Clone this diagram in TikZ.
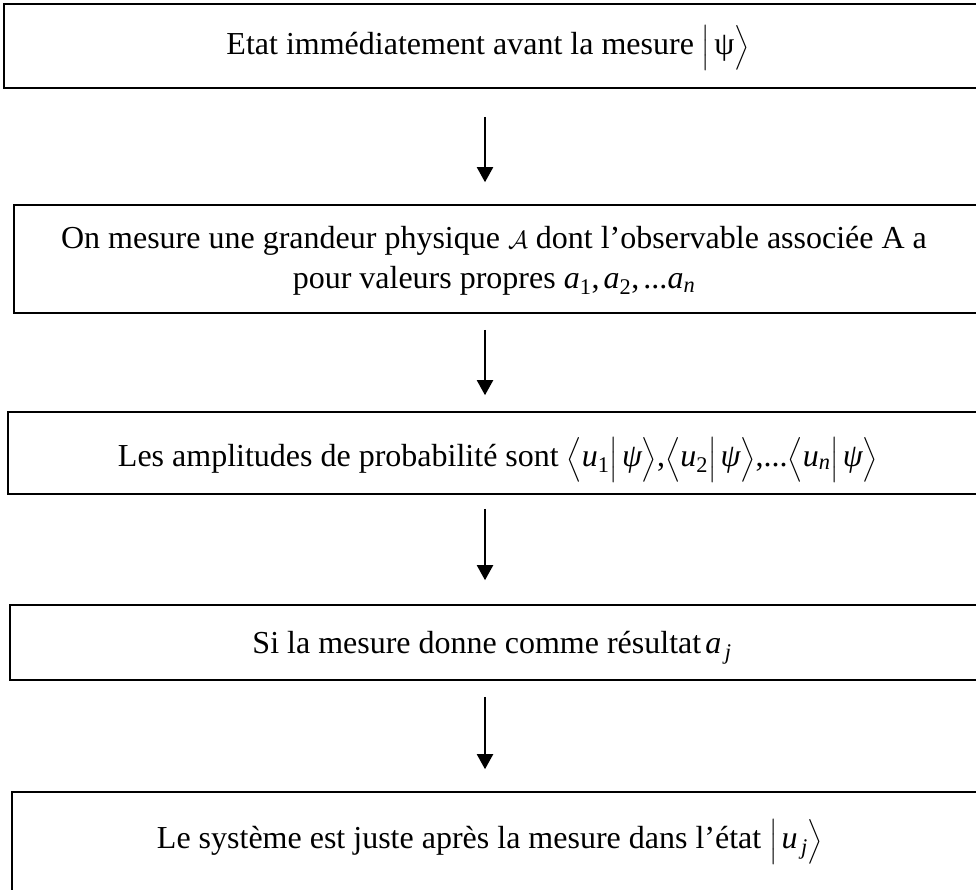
\documentclass[tikz,border=0pt]{standalone}
\usepackage{amsmath}
\usepackage{fontspec}
\setmainfont{Liberation Serif}
\usetikzlibrary{arrows.meta,fit}
\newcommand{\cm}{\mathpunct{\text{,}}}
\begin{document}
\begin{tikzpicture}[x=1pt,y=-1pt,
  box/.style={draw=black,line width=1.6pt,inner sep=0pt,rectangle},
  txt/.style={inner sep=0pt,align=center,font=\fontsize{32}{40}\selectfont},
  arr/.style={line width=2pt,-{Triangle[width=16pt,length=15pt]}}]
\useasboundingbox (0,0) rectangle (976,889);
\clip (0,0) rectangle (976,889);
\coordinate (ax) at (485,0);
\node[box,fit={(4,4) (1000,88)}] (b1) {};
\node[box,fit={(14,205) (1000,313)}] (b2) {};
\node[box,fit={(8,412) (1000,494)}] (b3) {};
\node[box,fit={(10,605) (1000,680)}] (b4) {};
\node[box,fit={(12,792) (1000,900)}] (b5) {};
\node[txt] (t1) at (488,48) {Etat immédiatement avant la mesure $\Bigl|\,\text{ψ}\Bigr\rangle$};
\node[txt] (t2) at (494,261) {On mesure une grandeur physique $\mathcal{A}$ dont l’observable associée A a\\pour valeurs propres $\textit{a}_{\text{1}}\cm\textit{a}_{\text{2}}\cm\text{...}\textit{a}_{\textit{n}}$};
\node[txt] (t3) at (498,460) {Les amplitudes de probabilité sont $\Bigl\langle \textit{u}_{\text{1}}\Bigl|\,\textit{ψ}\Bigr\rangle\text{,}\Bigl\langle \textit{u}_{\text{2}}\Bigl|\,\textit{ψ}\Bigr\rangle\text{,...}\Bigl\langle \textit{u}_{\textit{n}}\Bigl|\,\textit{ψ}\Bigr\rangle$};
\node[txt] (t4) at (492,648) {Si la mesure donne comme résultat$\,\textit{a}_{\,\textit{j}}$};
\node[txt] (t5) at (490,842) {Le système est juste après la mesure dans l’état $\Bigl|\,\textit{u}_{\,\textit{j}}\Bigr\rangle$};
\draw[arr,shorten <=28pt,shorten >=22pt] (b1.south -| ax) -- (b2.north -| ax);
\draw[arr,shorten <=16pt,shorten >=16pt] (b2.south -| ax) -- (b3.north -| ax);
\draw[arr,shorten <=14pt,shorten >=24pt] (b3.south -| ax) -- (b4.north -| ax);
\draw[arr,shorten <=16pt,shorten >=22pt] (b4.south -| ax) -- (b5.north -| ax);
\end{tikzpicture}
\end{document}
